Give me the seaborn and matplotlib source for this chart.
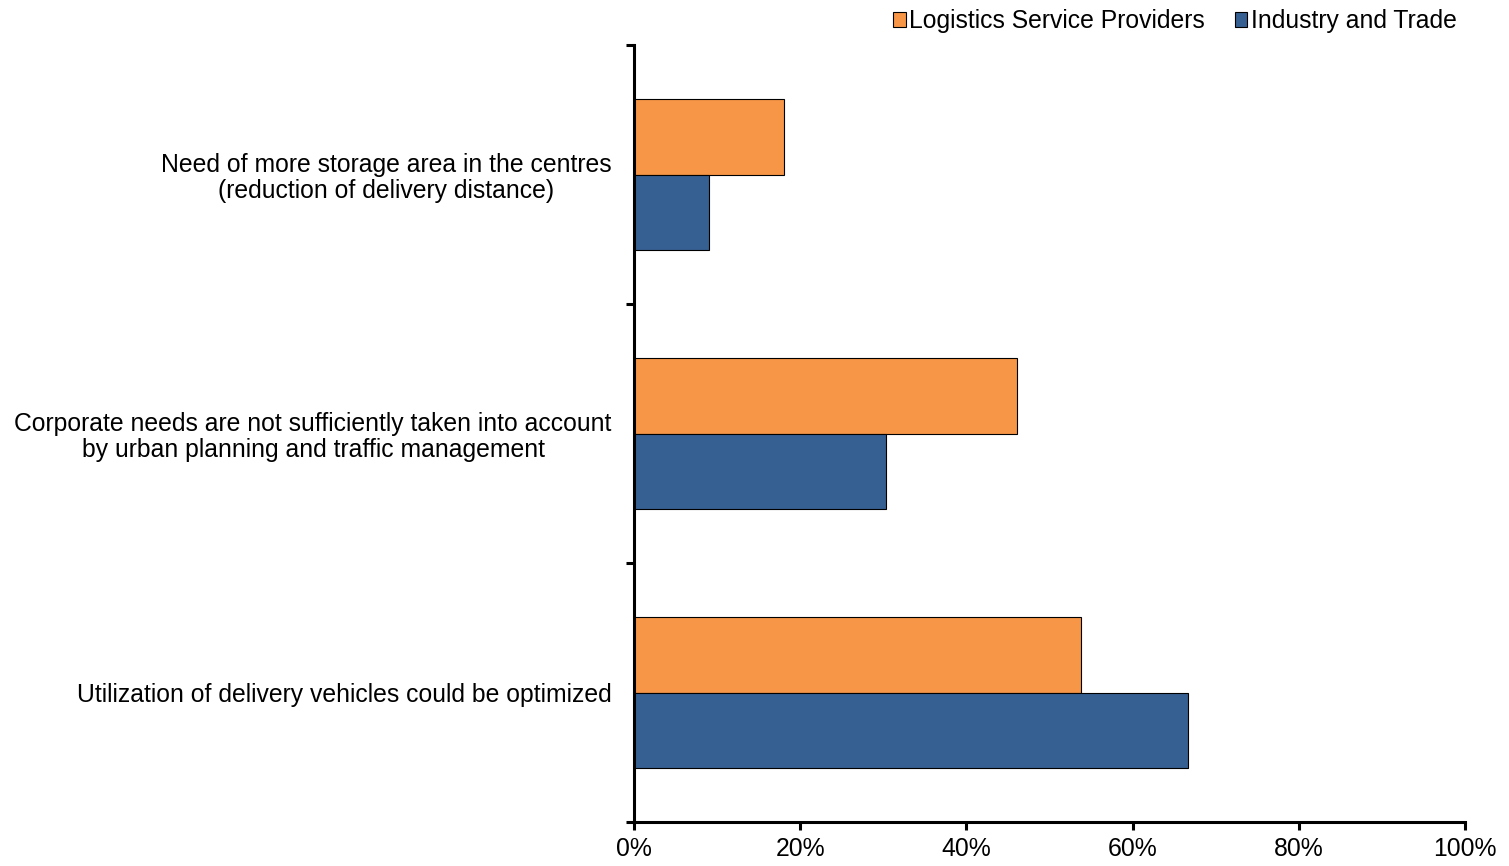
import pandas as pd
import matplotlib
matplotlib.use("Agg")
import matplotlib.pyplot as plt
import seaborn as sns
from matplotlib.ticker import FuncFormatter, FixedLocator

categories = [
    "Need of more storage area in the centres\n(reduction of delivery distance)",
    "Corporate needs are not sufficiently taken into account\nby urban planning and traffic management",
    "Utilization of delivery vehicles could be optimized",
]
groups = ["Logistics Service Providers", "Industry and Trade"]
logistics = [18.0, 46.1, 53.8]
industry = [9.0, 30.3, 66.7]
colors = ["#F79646", "#376092"]

df = pd.DataFrame({
    "Reason": categories * 2,
    "Group": [groups[0]] * 3 + [groups[1]] * 3,
    "Share": logistics + industry,
})

sns.set_theme(style="white")
plt.rcParams["font.family"] = ["Liberation Sans", "DejaVu Sans"]
plt.rcParams["font.size"] = 17.8
plt.rcParams["text.color"] = "black"

fig = plt.figure(figsize=(15.09, 8.66), dpi=100)
ax = fig.add_axes([0.4201, 0.0508, 0.5507, 0.8972])

sns.barplot(data=df, y="Reason", x="Share", hue="Group", order=categories,
            hue_order=groups, palette=colors, orient="h", width=0.58,
            edgecolor="black", linewidth=0.8, saturation=1, ax=ax, legend=True)

ax.set_xlim(0, 100)
ax.set_ylim(2.5, -0.5)
ax.set_xticks(range(0, 101, 20))
ax.xaxis.set_major_formatter(FuncFormatter(lambda v, p: f"{v:.0f}%"))
ax.set_xlabel("")
ax.set_ylabel("")

for side in ["top", "right"]:
    ax.spines[side].set_visible(False)
for side in ["left", "bottom"]:
    ax.spines[side].set_linewidth(2.2)
    ax.spines[side].set_color("black")

ax.tick_params(axis="x", which="major", direction="out", length=6, width=2.2,
               color="black", labelsize=17.8, labelcolor="black", pad=5, bottom=True)
ax.tick_params(axis="y", which="major", length=0, labelsize=17.8,
               labelcolor="black", pad=16)
ax.yaxis.set_minor_locator(FixedLocator([-0.5, 0.5, 1.5, 2.5]))
ax.tick_params(axis="y", which="minor", direction="out", length=6, width=2.2,
               color="black", left=True)
for lbl in ax.get_yticklabels():
    lbl.set_multialignment("center")
    lbl.set_linespacing(1.1)

handles, labels = ax.get_legend_handles_labels()
ax.get_legend().remove()
leg = fig.legend(handles, labels, loc="upper right", bbox_to_anchor=(0.98, 1.015),
                 ncol=2, frameon=False, fontsize=17.8, handlelength=0.5,
                 handleheight=0.5, handletextpad=0.15, columnspacing=1.2)
for t in leg.get_texts():
    t.set_color("black")

fig.savefig("out.png", dpi=100, facecolor="white")
